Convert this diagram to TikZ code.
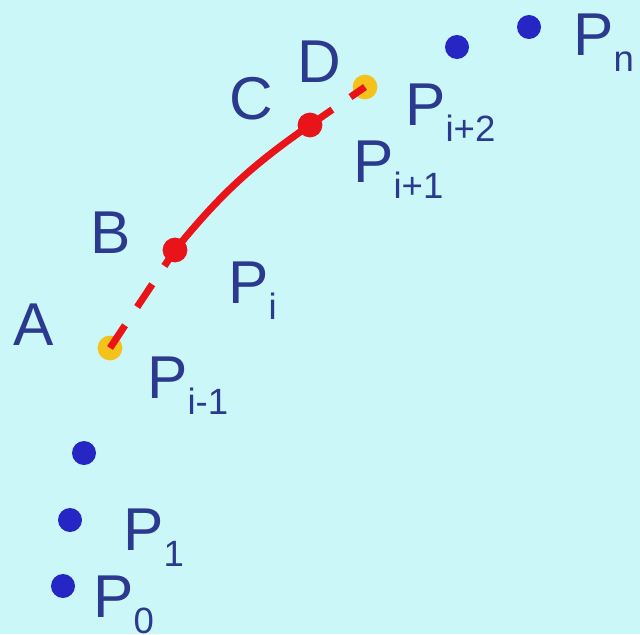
\documentclass[tikz,border=0pt]{standalone}
\usepackage{fontspec}
\setmainfont{Liberation Sans}
\usetikzlibrary{arrows.meta,positioning}
\definecolor{bg}{HTML}{CCF7F9}
\definecolor{txt}{HTML}{2B3A8E}
\definecolor{ptblue}{HTML}{2626C4}
\definecolor{segred}{HTML}{E8141A}
\definecolor{knot}{HTML}{F5C21B}
\newcommand{\Psub}[1]{P\raisebox{-0.42cm}{\fontsize{26}{28}\selectfont #1}}

\begin{document}
\begin{tikzpicture}[
  x=0.025cm, y=-0.025cm,
  lbl/.style={text=txt, font=\fontsize{43}{46}\selectfont, inner sep=0pt, anchor=base west},
  ctrl/.style={circle, fill=ptblue, minimum size=0.6cm, inner sep=0pt},
  knotdot/.style={circle, fill=knot, minimum size=0.62cm, inner sep=0pt},
  segdot/.style={circle, fill=segred, minimum size=0.62cm, inner sep=0pt},
  segline/.style={draw=segred, line width=5pt},
  segdash/.style={segline, dash pattern=on 0.68cm off 0.55cm},
]

\fill[bg] (0,0) rectangle (640,634);

\node[ctrl] (p0) at (63,586) {};
\node[ctrl] (p1) at (70,520) {};
\node[ctrl] (p2) at (84,453) {};
\node[ctrl] (pi3) at (457,47) {};
\node[ctrl] (pn) at (529,27) {};

\node[knotdot] (ka) at (110,348) {};
\node[knotdot] (kd) at (365,87) {};

\coordinate (kb) at (175,250);
\coordinate (kc) at (310,125);

\draw[segdash] (ka.center) -- (kb);
\draw[segline] (kb) to[bend left=8] (kc);
\draw[segdash] (kc) -- (kd.center);

\node[segdot] (sb) at (kb) {};
\node[segdot] (sc) at (kc) {};

\node[lbl] (la) at (13,345) {A};
\node[lbl] (lb) at (90,253) {B};
\node[lbl] (lc) at (229,119) {C};
\node[lbl] (ld) at (297,82) {D};

\node[lbl] (lpim) at (147,398) {\Psub{i-1}};
\node[lbl] (lpi) at (228,303) {\Psub{i}};
\node[lbl] (lpip) at (353,182) {\Psub{i+1}};
\node[lbl] (lpipp) at (405,125) {\Psub{i+2}};
\node[lbl] (lpn) at (573,55) {\Psub{n}};
\node[lbl] (lp1) at (123,550) {\Psub{1}};
\node[lbl] (lp0) at (93,617) {\Psub{0}};

\end{tikzpicture}
\end{document}
